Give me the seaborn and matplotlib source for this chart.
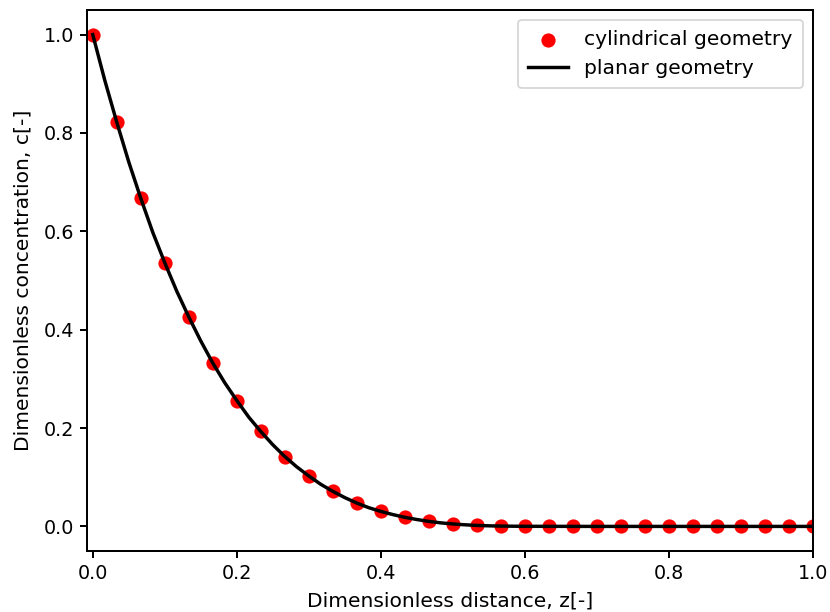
import matplotlib
matplotlib.use("Agg")
import matplotlib.pyplot as plt
import seaborn as sns
import pandas as pd

# cylindrical geometry points (z = k/30)
z_cyl = [0.0, 0.0333, 0.0667, 0.1, 0.1333, 0.1667, 0.2, 0.2333, 0.2667, 0.3,
         0.3333, 0.3667, 0.4, 0.4333, 0.4667, 0.5, 0.5333, 0.5667, 0.6, 0.6333,
         0.6667, 0.7, 0.7333, 0.7667, 0.8, 0.8333, 0.8667, 0.9, 0.9333, 0.9667, 1.0]
c_cyl = [1.0, 0.822, 0.667, 0.536, 0.426, 0.332, 0.256, 0.193, 0.142, 0.1025,
         0.0713, 0.0475, 0.0305, 0.0185, 0.0102, 0.0050, 0.0020, 0.0007, 0.0002, 0.0,
         0.0, 0.0, 0.0, 0.0, 0.0, 0.0, 0.0, 0.0, 0.0, 0.0, 0.0]

# planar geometry curve
z_pl = [0.0, 0.0167, 0.0333, 0.05, 0.0667, 0.0833, 0.1, 0.1167, 0.1333, 0.15,
        0.1667, 0.1833, 0.2, 0.2167, 0.2333, 0.25, 0.2667, 0.2833, 0.3, 0.3167,
        0.3333, 0.35, 0.3667, 0.3833, 0.4, 0.4167, 0.4333, 0.45, 0.4667, 0.4833,
        0.5, 0.5167, 0.5333, 0.55, 0.5667, 0.5833, 0.6, 0.7, 0.8, 0.9, 1.0]
c_pl = [1.0, 0.907, 0.822, 0.741, 0.667, 0.598, 0.536, 0.478, 0.426, 0.377,
        0.332, 0.292, 0.256, 0.222, 0.193, 0.166, 0.142, 0.121, 0.1025, 0.0855,
        0.0713, 0.0585, 0.0475, 0.038, 0.0305, 0.024, 0.0185, 0.014, 0.0102, 0.0072,
        0.0050, 0.0033, 0.0020, 0.0012, 0.0007, 0.0004, 0.0002, 0.0, 0.0, 0.0, 0.0]

labels = ["cylindrical geometry", "planar geometry"]
xlabel = "Dimensionless distance, z[-]"
ylabel = "Dimensionless concentration, c[-]"

plt.rcParams.update({
    "axes.linewidth": 1.1,
    "xtick.major.width": 1.1,
    "ytick.major.width": 1.1,
    "xtick.major.size": 3.8,
    "ytick.major.size": 3.8,
    "xtick.labelsize": 10.6,
    "ytick.labelsize": 10.6,
    "axes.labelsize": 11.2,
    "legend.fontsize": 11.2,
})

dpi = 130
fig = plt.figure(figsize=(830 / dpi, 612 / dpi), dpi=dpi)
ax = fig.add_axes([87 / 830, 1 - 551 / 612, (813 - 87) / 830, (551 - 10) / 612])

df_cyl = pd.DataFrame({"z": z_cyl, "c": c_cyl})
df_pl = pd.DataFrame({"z": z_pl, "c": c_pl})

sns.scatterplot(data=df_cyl, x="z", y="c", ax=ax, color="red", s=62,
                linewidth=0, label=labels[0], zorder=2)
sns.lineplot(data=df_pl, x="z", y="c", ax=ax, color="black", linewidth=1.9,
             label=labels[1], zorder=3, sort=False)

ax.set_xlim(-0.008, 1.0)
ax.set_ylim(-0.05, 1.05)
ax.set_xlabel(xlabel, labelpad=4.5)
ax.set_ylabel(ylabel, labelpad=6)
ax.legend(loc="upper right", borderpad=0.5)

fig.savefig("out.png", dpi=dpi)
